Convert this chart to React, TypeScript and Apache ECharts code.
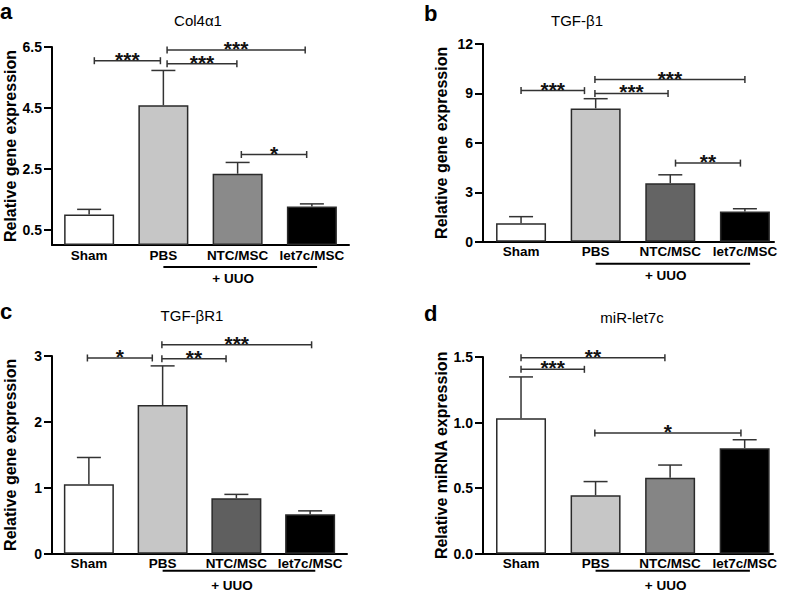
import React, { useEffect, useRef } from "react";
import * as echarts from "echarts";

const categories = ["Sham", "PBS", "NTC/MSC", "let7c/MSC"];

// Panel a: Col4α1
const col4Mean = [1.0, 4.59, 2.34, 1.26];
const col4Sem = [0.17, 1.14, 0.37, 0.09];
const col4Brackets = [
  [0.07, 0.96, 6.05, 3],
  [1.05, 1.99, 5.95, 3],
  [1.05, 2.91, 6.4, 3],
  [2.05, 2.93, 2.97, 1],
];
const col4Ticks = [0.5, 2.5, 4.5, 6.5];

// Panel b: TGF-β1
const tgfb1Mean = [1.12, 8.09, 3.55, 1.83];
const tgfb1Sem = [0.4, 0.59, 0.51, 0.17];
const tgfb1Brackets = [
  [0.0, 0.85, 9.17, 3],
  [0.99, 1.97, 9.0, 3],
  [0.99, 3.0, 9.84, 3],
  [2.07, 2.94, 4.77, 2],
];
const tgfb1Ticks = [0, 3, 6, 9, 12];

// Panel c: TGF-βR1
const tgfbr1Mean = [1.055, 2.255, 0.84, 0.6];
const tgfbr1Sem = [0.405, 0.595, 0.06, 0.05];
const tgfbr1Brackets = [
  [-0.02, 0.86, 2.97, 1],
  [0.99, 1.86, 2.96, 2],
  [0.99, 3.02, 3.17, 3],
];
const tgfbr1Ticks = [0, 1, 2, 3];

// Panel d: miR-let7c
const let7Mean = [1.033, 0.446, 0.58, 0.805];
const let7Sem = [0.315, 0.104, 0.096, 0.064];
const let7Brackets = [
  [0.0, 1.93, 1.495, 2],
  [0.0, 0.85, 1.406, 3],
  [0.99, 2.95, 0.92, 1],
];
const let7Ticks = [0, 0.5, 1.0, 1.5];

const uuoSpan = [1.0, 3.07];
const uuoLabelX = 1.94;
const uuoLabel = "+ UUO";

const FONT = "Liberation Sans, Arial, Helvetica, sans-serif";

const panels = [
  {
    letter: "a", title: "Col4α1", yName: "Relative gene expression",
    grid: { left: 52, top: 47, width: 297, height: 198 },
    xMin: -0.5, xMax: 3.5, yMax: 6.5, ticks: col4Ticks, digits: 1,
    mean: col4Mean, sem: col4Sem, brackets: col4Brackets,
    ntc: "#8a8a8a", lineGap: 22, textGap: 33.5,
    letterPos: [0, 8], titlePos: [198, 20],
  },
  {
    letter: "b", title: "TGF-β1", yName: "Relative gene expression",
    grid: { left: 483, top: 44, width: 291, height: 197.7 },
    xMin: -0.51, xMax: 3.39, yMax: 12, ticks: tgfb1Ticks, digits: 0,
    mean: tgfb1Mean, sem: tgfb1Sem, brackets: tgfb1Brackets,
    ntc: "#646464", lineGap: 22, textGap: 34,
    letterPos: [424, 10], titlePos: [577, 20],
  },
  {
    letter: "c", title: "TGF-βR1", yName: "Relative gene expression",
    grid: { left: 52, top: 356, width: 295, height: 197.7 },
    xMin: -0.5, xMax: 3.5, yMax: 3, ticks: tgfbr1Ticks, digits: 0,
    mean: tgfbr1Mean, sem: tgfbr1Sem, brackets: tgfbr1Brackets,
    ntc: "#5f5f5f", lineGap: 17, textGap: 31.5,
    letterPos: [0, 308], titlePos: [192, 315],
  },
  {
    letter: "d", title: "miR-let7c", yName: "Relative miRNA expression",
    grid: { left: 483, top: 357, width: 290, height: 196.7 },
    xMin: -0.51, xMax: 3.38, yMax: 1.5, ticks: let7Ticks, digits: 1,
    mean: let7Mean, sem: let7Sem, brackets: let7Brackets,
    ntc: "#858585", lineGap: 17, textGap: 32,
    letterPos: [424, 310], titlePos: [632, 317],
  },
];

export default function App() {
  const ref = useRef<HTMLDivElement>(null);
  useEffect(() => {
    if (!ref.current) return;
    const chart = echarts.init(ref.current, null, { renderer: "svg" });

    const grids: any[] = [];
    const xAxes: any[] = [];
    const yAxes: any[] = [];
    const series: any[] = [];
    const graphics: any[] = [];

    panels.forEach((p, i) => {
      grids.push({ ...p.grid, containLabel: false });
      xAxes.push({
        type: "value", gridIndex: i, min: p.xMin, max: p.xMax,
        splitLine: { show: false },
        axisLine: { show: true, onZero: false, lineStyle: { color: "#000", width: 2 } },
        axisTick: { show: false },
        axisLabel: {
          customValues: [0, 1, 2, 3],
          formatter: (v: number) => categories[Math.round(v)] ?? "",
          color: "#000", fontWeight: "bold", fontSize: 13.5, margin: 3, fontFamily: FONT,
        },
      });
      yAxes.push({
        type: "value", gridIndex: i, min: 0, max: p.yMax,
        splitLine: { show: false },
        axisLine: { show: true, onZero: false, lineStyle: { color: "#000", width: 2 } },
        axisTick: { show: true, inside: false, customValues: p.ticks, length: 8, lineStyle: { color: "#000", width: 2 } },
        axisLabel: {
          customValues: p.ticks,
          formatter: (v: number) => v.toFixed(p.digits),
          color: "#000", fontWeight: "bold", fontSize: 14, margin: 10, fontFamily: FONT,
        },
        name: p.yName, nameLocation: "middle", nameGap: 34, nameRotate: 90,
        nameTextStyle: { color: "#000", fontWeight: "bold", fontSize: 16, fontFamily: FONT },
      });

      const colors = ["#ffffff", "#c6c6c6", p.ntc, "#000000"];
      series.push({
        type: "bar", xAxisIndex: i, yAxisIndex: i, barWidth: 50,
        itemStyle: { borderColor: "#2a2a2a", borderWidth: 1.5 },
        data: p.mean.map((m, j) => ({ value: [j, m], itemStyle: { color: colors[j] } })),
        z: 2,
      });

      series.push({
        type: "custom", xAxisIndex: i, yAxisIndex: i, clip: false, z: 3,
        data: p.mean.map((m, j) => [j, m, m + p.sem[j]]),
        renderItem: (params: any, api: any) => {
          const x = api.value(0);
          const lo = api.coord([x, api.value(1)]);
          const hi = api.coord([x, api.value(2)]);
          const st = { stroke: "#333", lineWidth: 1.5 };
          return {
            type: "group",
            children: [
              { type: "line", shape: { x1: lo[0], y1: lo[1], x2: hi[0], y2: hi[1] }, style: st },
              { type: "line", shape: { x1: hi[0] - 12, y1: hi[1], x2: hi[0] + 12, y2: hi[1] }, style: st },
            ],
          };
        },
      });

      series.push({
        type: "custom", xAxisIndex: i, yAxisIndex: i, clip: false, z: 4,
        data: p.brackets,
        renderItem: (params: any, api: any) => {
          const a = api.coord([api.value(0), api.value(2)]);
          const b = api.coord([api.value(1), api.value(2)]);
          const n = Math.round(api.value(3));
          const st = { stroke: "#333", lineWidth: 1.5 };
          return {
            type: "group",
            children: [
              { type: "line", shape: { x1: a[0], y1: a[1], x2: b[0], y2: b[1] }, style: st },
              { type: "line", shape: { x1: a[0], y1: a[1] - 3.5, x2: a[0], y2: a[1] + 3.5 }, style: st },
              { type: "line", shape: { x1: b[0], y1: b[1] - 3.5, x2: b[0], y2: b[1] + 3.5 }, style: st },
              {
                type: "text",
                style: {
                  text: "*".repeat(n), x: (a[0] + b[0]) / 2, y: a[1] - 1.5,
                  align: "center", verticalAlign: "middle",
                  font: `bold 21px ${FONT}`, fill: "#111",
                },
              },
            ],
          };
        },
      });

      series.push({
        type: "custom", xAxisIndex: i, yAxisIndex: i, clip: false, z: 4,
        data: [[uuoSpan[0], uuoSpan[1], uuoLabelX]],
        renderItem: (params: any, api: any) => {
          const a = api.coord([api.value(0), 0]);
          const b = api.coord([api.value(1), 0]);
          const t = api.coord([api.value(2), 0]);
          return {
            type: "group",
            children: [
              {
                type: "line",
                shape: { x1: a[0], y1: a[1] + p.lineGap, x2: b[0], y2: b[1] + p.lineGap },
                style: { stroke: "#000", lineWidth: 2 },
              },
              {
                type: "text",
                style: {
                  text: uuoLabel, x: t[0], y: t[1] + p.textGap,
                  align: "center", verticalAlign: "middle",
                  font: `bold 13.5px ${FONT}`, fill: "#000",
                },
              },
            ],
          };
        },
      });

      graphics.push({
        type: "text", left: p.letterPos[0], top: p.letterPos[1] - 8,
        style: { text: p.letter, font: `bold 22px ${FONT}`, fill: "#000" },
      });
      graphics.push({
        type: "text", x: p.titlePos[0], y: p.titlePos[1],
        style: {
          text: p.title, font: `15px ${FONT}`, fill: "#000",
          align: "center", verticalAlign: "middle",
        },
      });
    });

    chart.setOption({
      animation: false,
      backgroundColor: "#ffffff",
      textStyle: { fontFamily: FONT },
      grid: grids,
      xAxis: xAxes,
      yAxis: yAxes,
      series,
      graphic: graphics,
    });
    return () => chart.dispose();
  }, []);
  return (
    <div
      ref={ref}
      style={{ position: "absolute", left: 0, top: 0, width: 785, height: 594 }}
    />
  );
}
